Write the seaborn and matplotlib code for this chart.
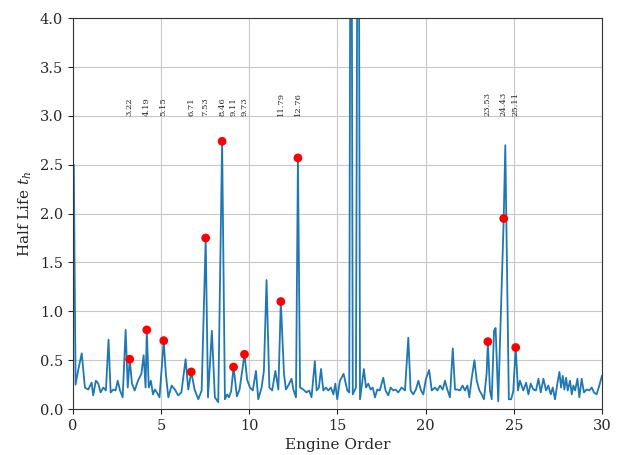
import numpy as np
import pandas as pd
import matplotlib
matplotlib.use("Agg")
import matplotlib.pyplot as plt
import seaborn as sns

# Half-life spectrum versus engine order
eo = [0.05, 0.15, 0.30, 0.50, 0.68, 0.87, 1.06, 1.15, 1.30, 1.44, 1.57, 1.72, 1.87, 2.02, 2.14,
      2.29, 2.42, 2.54, 2.67, 2.82, 2.99, 3.11, 3.22, 3.35, 3.50, 3.69, 3.88, 4.01, 4.12, 4.19,
      4.30, 4.42, 4.54, 4.65, 4.76, 4.91, 5.15, 5.27, 5.41, 5.60, 5.78, 5.97, 6.15, 6.39, 6.54,
      6.71, 6.90, 7.11, 7.30, 7.53, 7.66, 7.88, 8.05, 8.24, 8.46, 8.62, 8.75, 8.85, 8.97, 9.11,
      9.30, 9.45, 9.73, 9.88, 10.04, 10.20, 10.38, 10.51, 10.70, 10.83, 10.98, 11.14, 11.30, 11.48,
      11.65, 11.79, 11.97, 12.08, 12.21, 12.40, 12.50, 12.65, 12.76, 12.88, 13.06, 13.25, 13.40,
      13.53, 13.72, 13.82, 13.95, 14.07, 14.20, 14.35, 14.48, 14.63, 14.77, 14.88, 14.99, 15.14,
      15.35, 15.56, 15.67, 15.77, 15.87, 16.05, 16.18, 16.28, 16.50, 16.62, 16.75, 16.88, 17.00,
      17.13, 17.26, 17.40, 17.60, 17.73, 17.88, 18.02, 18.17, 18.30, 18.45, 18.64, 18.83, 19.02,
      19.15, 19.30, 19.45, 19.59, 19.74, 19.87, 20.02, 20.20, 20.35, 20.53, 20.67, 20.82, 20.97,
      21.10, 21.23, 21.38, 21.54, 21.67, 21.82, 21.95, 22.10, 22.23, 22.37, 22.48, 22.61, 22.77,
      22.90, 23.05, 23.18, 23.31, 23.46, 23.53, 23.65, 23.75, 23.88, 23.97, 24.12, 24.43, 24.52,
      24.72, 24.85, 24.97, 25.11, 25.24, 25.35, 25.54, 25.70, 25.83, 25.96, 26.11, 26.26, 26.40,
      26.53, 26.68, 26.83, 26.96, 27.10, 27.21, 27.34, 27.47, 27.59, 27.68, 27.78, 27.87, 27.97,
      28.06, 28.19, 28.29, 28.38, 28.48, 28.61, 28.72, 28.85, 28.98, 29.13, 29.28, 29.42, 29.55,
      29.70, 29.85, 30.00]
half_life = [2.50, 0.25, 0.40, 0.57, 0.22, 0.20, 0.27, 0.14, 0.29, 0.26, 0.17, 0.22, 0.19, 0.71, 0.17,
             0.20, 0.19, 0.29, 0.19, 0.12, 0.81, 0.22, 0.51, 0.26, 0.19, 0.29, 0.36, 0.55, 0.22, 0.81,
             0.22, 0.29, 0.15, 0.20, 0.17, 0.12, 0.70, 0.36, 0.12, 0.24, 0.20, 0.14, 0.17, 0.51, 0.20,
             0.38, 0.20, 0.10, 0.19, 1.75, 0.12, 0.80, 0.12, 0.07, 2.74, 0.10, 0.15, 0.12, 0.18, 0.43,
             0.13, 0.20, 0.56, 0.30, 0.22, 0.19, 0.39, 0.10, 0.22, 0.39, 1.32, 0.22, 0.19, 0.39,
             0.20, 1.10, 0.36, 0.20, 0.24, 0.31, 0.20, 0.12, 2.57, 0.22, 0.20, 0.17, 0.19,
             0.12, 0.49, 0.19, 0.22, 0.41, 0.19, 0.22, 0.19, 0.22, 0.15, 0.26, 0.10, 0.29,
             0.36, 0.19, 0.17, 8.00, 0.15, 0.22, 8.00, 0.10, 0.41, 0.22, 0.26, 0.20, 0.22,
             0.12, 0.20, 0.19, 0.32, 0.19, 0.14, 0.22, 0.19, 0.20, 0.17, 0.22, 0.19, 0.73,
             0.19, 0.15, 0.20, 0.29, 0.19, 0.15, 0.31, 0.40, 0.19, 0.22, 0.19, 0.24, 0.20,
             0.29, 0.20, 0.12, 0.62, 0.20, 0.20, 0.19, 0.24, 0.19, 0.24, 0.12, 0.31, 0.50,
             0.29, 0.19, 0.15, 0.10, 0.36, 0.69, 0.19, 0.10, 0.80, 0.83, 0.08, 1.95, 2.70,
             0.10, 0.10, 0.18, 0.63, 0.19, 0.29, 0.19, 0.27, 0.15, 0.26, 0.20, 0.19, 0.31,
             0.17, 0.31, 0.19, 0.24, 0.15, 0.22, 0.10, 0.26, 0.38, 0.22, 0.34, 0.20, 0.32,
             0.19, 0.29, 0.15, 0.24, 0.19, 0.31, 0.12, 0.31, 0.17, 0.20, 0.19, 0.22, 0.17,
             0.15, 0.24, 0.34]

# Engine orders of the identified peaks
peak_eo = [3.22, 4.19, 5.15, 6.71, 7.53, 8.46, 9.11, 9.73, 11.79, 12.76, 23.53, 24.43, 25.11]

sns.set_style("ticks", {"axes.grid": True, "grid.color": "#c8c8c8",
                        "axes.edgecolor": "#333333"})
plt.rcParams["font.family"] = ["DejaVu Serif"]
plt.rcParams["mathtext.fontset"] = "dejavuserif"

df = pd.DataFrame({"eo": eo, "t": half_life})
peaks = pd.DataFrame({"eo": peak_eo, "t": np.interp(peak_eo, eo, half_life)})

fig = plt.figure(figsize=(6.18, 4.55), dpi=100)
ax = fig.add_axes([0.118, 0.101, 0.856, 0.859])

sns.lineplot(data=df, x="eo", y="t", ax=ax, color="#1f77b4", linewidth=1.3,
             sort=False, estimator=None)
sns.scatterplot(data=peaks, x="eo", y="t", ax=ax, color="red", s=40,
                edgecolor="none", zorder=3)

for x in peak_eo:
    ax.text(x, 3.0, f"{x:.2f}", rotation=90, ha="center", va="bottom",
            fontsize=6)

ax.set_xlim(0, 30)
ax.set_ylim(0, 4.0)
ax.set_xticks(np.arange(0, 31, 5))
ax.set_yticks(np.arange(0, 4.01, 0.5))
ax.set_xlabel("Engine Order", fontsize=11)
ax.set_ylabel("Half Life $t_h$", fontsize=11)
ax.tick_params(labelsize=10.5)
for s in ax.spines.values():
    s.set_visible(True)

fig.savefig("out.png", dpi=100)
